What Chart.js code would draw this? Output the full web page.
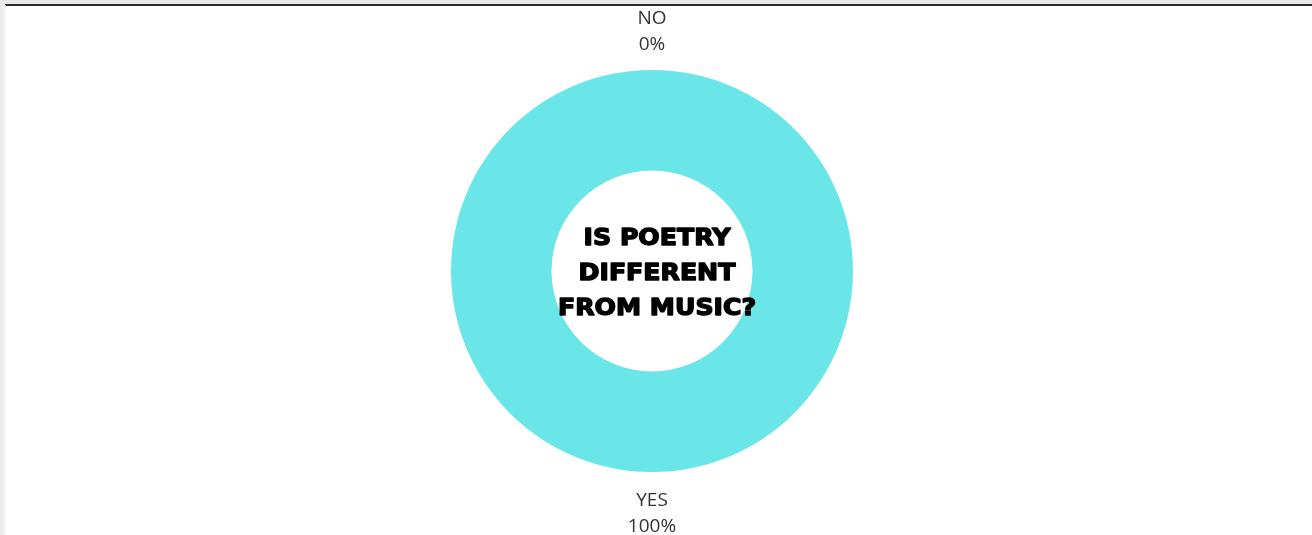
<!DOCTYPE html>
<html>
<head>
<meta charset="utf-8">
<script src="https://cdn.jsdelivr.net/npm/chart.js@4.4.0/dist/chart.umd.min.js"></script>
<style>
    html, body { margin: 0; padding: 0; background: #fff; overflow: hidden; }
    .wrap { position: relative; width: 1312px; height: 535px; }
    .topbar { position: absolute; left: 0; top: 0; width: 1312px; height: 5px; background: #e9e9e9; }
    .topline { position: absolute; left: 5px; top: 4px; width: 1307px; height: 2px; background: #2b2b2b; }
    .leftbar { position: absolute; left: 0; top: 5px; width: 6px; height: 530px; background: linear-gradient(to right, #e6e6e6, #f7f7f7); }
    canvas { position: absolute; left: 0; top: 0; }
</style>
</head>
<body>
<div class="wrap">
    <canvas id="pollChart" width="1312" height="535"></canvas>
    <div class="topbar"></div>
    <div class="topline"></div>
    <div class="leftbar"></div>
</div>
<script>
// Respostas da enquete
const categorias = ['YES', 'NO'];
const percentuais = [100, 0];
const tituloCentro = ['IS POETRY', 'DIFFERENT', 'FROM MUSIC?'];

// Rótulos fora do anel, no ângulo médio de cada fatia
const rotulosExternos = {
    id: 'rotulosExternos',
    afterDatasetsDraw(chart) {
        const ctx = chart.ctx;
        const meta = chart.getDatasetMeta(0);
        ctx.save();
        ctx.font = '19px "Open Sans", sans-serif';
        ctx.fillStyle = '#333';
        ctx.textAlign = 'center';
        ctx.textBaseline = 'middle';
        meta.data.forEach((arc, i) => {
            const { x, y, startAngle, endAngle, outerRadius } = arc.getProps(['x', 'y', 'startAngle', 'endAngle', 'outerRadius'], true);
            const meio = (startAngle + endAngle) / 2;
            const r = outerRadius + 40;
            const lx = x + Math.cos(meio) * r;
            const ly = y + Math.sin(meio) * r;
            ctx.fillText(categorias[i], lx, ly - 11);
            ctx.fillText(percentuais[i] + '%', lx, ly + 15);
        });
        ctx.restore();
    }
};

// Pergunta no centro do anel (fonte pesada, esticada até a largura do furo)
const textoCentro = {
    id: 'textoCentro',
    afterDatasetsDraw(chart) {
        const ctx = chart.ctx;
        const arc = chart.getDatasetMeta(0).data[0];
        ctx.save();
        ctx.font = 'bold 23px "DejaVu Sans", sans-serif';
        const maior = Math.max(...tituloCentro.map(t => ctx.measureText(t).width));
        const escala = 198 / maior;
        ctx.translate(arc.x + 5, arc.y + 3);
        ctx.scale(escala, 1);
        ctx.fillStyle = '#000';
        ctx.strokeStyle = '#000';
        ctx.lineWidth = 1.4;
        ctx.lineJoin = 'round';
        ctx.textAlign = 'center';
        ctx.textBaseline = 'middle';
        tituloCentro.forEach((linha, i) => {
            const ly = (i - 1) * 35;
            ctx.strokeText(linha, 0, ly);
            ctx.fillText(linha, 0, ly);
        });
        ctx.restore();
    }
};

new Chart(document.getElementById('pollChart'), {
    type: 'doughnut',
    data: {
        labels: categorias,
        datasets: [{
            data: percentuais,
            backgroundColor: ['#6be6e8', '#f2a33a'],
            borderWidth: 0
        }]
    },
    options: {
        responsive: false,
        animation: false,
        cutout: '50%',
        layout: { padding: { top: 70, bottom: 63, left: 0, right: 8 } },
        plugins: {
            legend: { display: false },
            tooltip: { enabled: false }
        }
    },
    plugins: [rotulosExternos, textoCentro]
});
</script>
</body>
</html>
